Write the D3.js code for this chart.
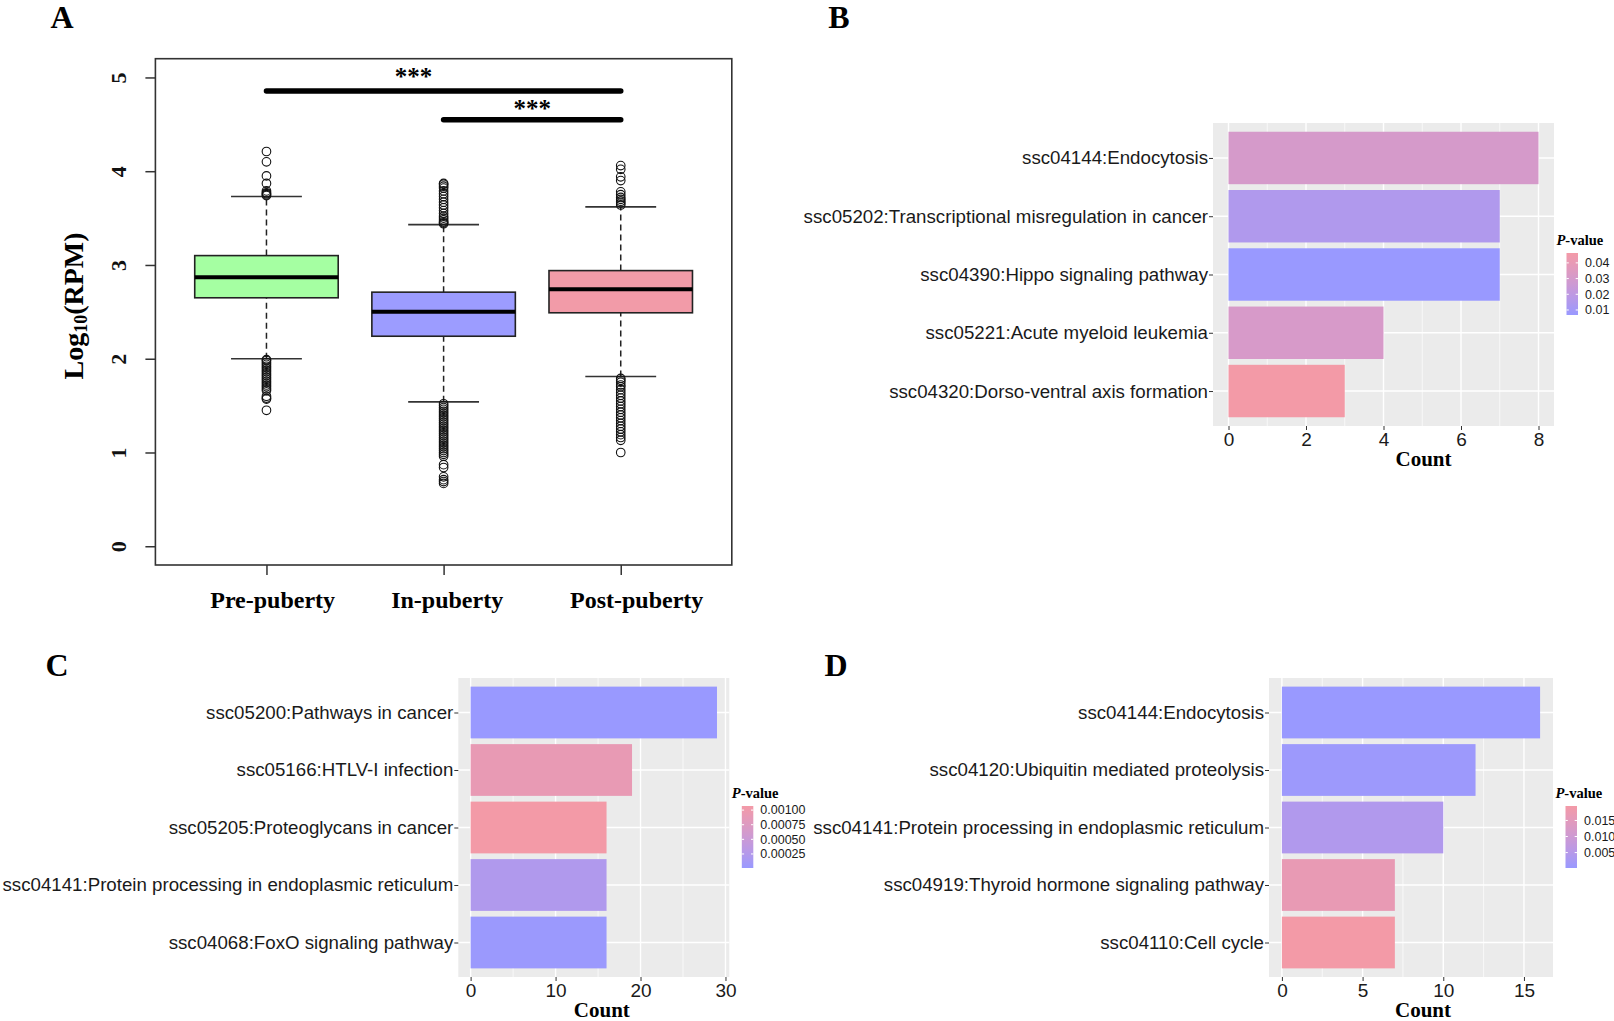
<!DOCTYPE html>
<html>
<head>
<meta charset="utf-8">
<script src="https://cdn.jsdelivr.net/npm/d3@7"></script>
<style>
  body { margin: 0; background: #fff; }
  svg { display: block; }
</style>
</head>
<body>
<svg id="fig" width="1614" height="1021"></svg>
<script>
// ---- panel A: expression per stage, log10(RPM) ----
var stages = ['Pre-puberty', 'In-puberty', 'Post-puberty'];
var q1 = [2.65, 2.24, 2.49];
var medians = [2.87, 2.50, 2.74];
var q3 = [3.10, 2.71, 2.94];
var whiskerLo = [2.00, 1.54, 1.81];
var whiskerHi = [3.73, 3.43, 3.62];
var outliersPre = [4.21, 4.10, 3.95, 3.87, 3.79, 3.77, 3.76, 3.75, 3.74,
  1.99, 1.98, 1.96, 1.94, 1.92, 1.90, 1.88, 1.86, 1.84, 1.82, 1.80, 1.78,
  1.76, 1.74, 1.72, 1.70, 1.68, 1.66, 1.60, 1.58, 1.57, 1.45];
var outliersIn = [3.87, 3.86, 3.84, 3.82, 3.79, 3.76, 3.73, 3.70, 3.67, 3.64,
  3.61, 3.58, 3.55, 3.52, 3.50, 3.48, 3.46, 3.45, 3.44,
  1.52, 1.50, 1.48, 1.46, 1.44, 1.42, 1.40, 1.38, 1.36, 1.34, 1.32, 1.30,
  1.28, 1.26, 1.24, 1.22, 1.20, 1.18, 1.16, 1.14, 1.12, 1.10, 1.08, 1.06,
  1.04, 1.02, 1.00, 0.98, 0.96, 0.87, 0.84, 0.74, 0.71, 0.69, 0.67];
var outliersPost = [4.06, 4.02, 3.94, 3.90, 3.78, 3.75, 3.72, 3.70, 3.68, 3.66, 3.64,
  1.79, 1.77, 1.75, 1.72, 1.70, 1.67, 1.64, 1.61, 1.58, 1.55, 1.52, 1.49,
  1.46, 1.43, 1.40, 1.37, 1.34, 1.31, 1.28, 1.25, 1.22, 1.19, 1.16, 1.13, 1.00];
var rpmTicks = [0, 1, 2, 3, 4, 5];
var stageLabelAt = [1.035, 2.02, 3.09];
var sigFrom = [1, 2];
var sigTo = [3, 3];
var sigLevel = [4.855, 4.55];
var sigText = ['***', '***'];
var sigTextX = [1.83, 2.5];
var sigTextY = [5.03, 4.69];

// ---- panel B ----
var termsB = ['ssc04144:Endocytosis', 'ssc05202:Transcriptional misregulation in cancer',
  'ssc04390:Hippo signaling pathway', 'ssc05221:Acute myeloid leukemia',
  'ssc04320:Dorso-ventral axis formation'];
var countB = [8, 7, 7, 4, 3];
var pvalB = [0.0305, 0.0147, 0.0068, 0.0312, 0.0463];
var countTicksB = [0, 2, 4, 6, 8];
var pTicksB = [0.01, 0.02, 0.03, 0.04];

// ---- panel C ----
var termsC = ['ssc05200:Pathways in cancer', 'ssc05166:HTLV-I infection',
  'ssc05205:Proteoglycans in cancer', 'ssc04141:Protein processing in endoplasmic reticulum',
  'ssc04068:FoxO signaling pathway'];
var countC = [29, 19, 16, 16, 16];
var pvalC = [0.00001, 0.00091, 0.00107, 0.00022, 0.00003];
var countTicksC = [0, 10, 20, 30];
var pTicksC = [0.00025, 0.0005, 0.00075, 0.001];

// ---- panel D ----
var termsD = ['ssc04144:Endocytosis', 'ssc04120:Ubiquitin mediated proteolysis',
  'ssc04141:Protein processing in endoplasmic reticulum', 'ssc04919:Thyroid hormone signaling pathway',
  'ssc04110:Cell cycle'];
var countD = [16, 12, 10, 7, 7];
var pvalD = [0.0002, 0.0008, 0.0041, 0.0166, 0.0195];
var countTicksD = [0, 5, 10, 15];
var pTicksD = [0.005, 0.010, 0.015];

var SERIF = '"Liberation Serif", "Times New Roman", serif';
var SANS = '"Liberation Sans", Arial, sans-serif';
var lowColor = '#9999ff';
var highColor = '#f39aa7';

var svg = d3.select('#fig');
var defs = svg.append('defs');

// panel letters
[['A', 62, 17], ['B', 839, 17], ['C', 57, 665], ['D', 836, 665]].forEach(function(p) {
  svg.append('text')
    .attr('x', p[1]).attr('y', p[2] + 11)
    .attr('text-anchor', 'middle')
    .style('font-family', SERIF).style('font-weight', 'bold').style('font-size', '32px')
    .text(p[0]);
});

// ================= box plot =================
(function boxPanel() {
  var left = 155.4, right = 731.8, top = 58.7, bottom = 565;
  var x = d3.scaleLinear().domain([0.373, 3.627]).range([left, right]);
  var y = d3.scaleLinear().domain([-0.2, 5.2]).range([bottom, top]);
  var g = svg.append('g');
  var outliers = [outliersPre, outliersIn, outliersPost];
  var fills = ['#a5ffa2', '#9c9cff', '#f29ba8'];

  stages.forEach(function(s, i) {
    var cx = x(i + 1);
    // whiskers
    [[whiskerLo[i], q1[i]], [q3[i], whiskerHi[i]]].forEach(function(w) {
      g.append('line')
        .attr('x1', cx).attr('x2', cx).attr('y1', y(w[0])).attr('y2', y(w[1]))
        .attr('stroke', '#222').attr('stroke-width', 1.5).attr('stroke-dasharray', '6,4');
    });
    [whiskerLo[i], whiskerHi[i]].forEach(function(v) {
      g.append('line')
        .attr('x1', x(i + 0.8)).attr('x2', x(i + 1.2)).attr('y1', y(v)).attr('y2', y(v))
        .attr('stroke', '#333').attr('stroke-width', 1.6);
    });
    g.append('rect')
      .attr('x', x(i + 0.595)).attr('width', x(i + 1.405) - x(i + 0.595))
      .attr('y', y(q3[i])).attr('height', y(q1[i]) - y(q3[i]))
      .attr('fill', fills[i]).attr('stroke', '#222').attr('stroke-width', 1.6);
    g.append('line')
      .attr('x1', x(i + 0.595)).attr('x2', x(i + 1.405))
      .attr('y1', y(medians[i])).attr('y2', y(medians[i]))
      .attr('stroke', '#000').attr('stroke-width', 4);
    g.selectAll('.out' + i).data(outliers[i]).enter().append('circle')
      .attr('cx', cx).attr('cy', function(d) { return y(d); })
      .attr('r', 4.3).attr('fill', 'none').attr('stroke', '#111').attr('stroke-width', 1.1);
  });

  // significance bars
  sigLevel.forEach(function(lv, i) {
    g.append('line')
      .attr('x1', x(sigFrom[i])).attr('x2', x(sigTo[i])).attr('y1', y(lv)).attr('y2', y(lv))
      .attr('stroke', '#000').attr('stroke-width', 5.5).attr('stroke-linecap', 'round');
    g.append('text')
      .attr('x', x(sigTextX[i])).attr('y', y(sigTextY[i]) + 10)
      .attr('text-anchor', 'middle')
      .style('font-family', SERIF).style('font-weight', 'bold').style('font-size', '25px')
      .text(sigText[i]);
  });

  g.append('rect')
    .attr('x', left).attr('y', top).attr('width', right - left).attr('height', bottom - top)
    .attr('fill', 'none').attr('stroke', '#333').attr('stroke-width', 1.6);

  var yAxis = g.append('g').attr('transform', 'translate(' + left + ',0)')
    .call(d3.axisLeft(y).tickValues(rpmTicks).tickSize(10).tickFormat(d3.format('d')));
  yAxis.select('.domain').remove();
  yAxis.selectAll('line').attr('stroke', '#333').attr('stroke-width', 1.5);
  yAxis.selectAll('text')
    .attr('transform', 'rotate(-90)').attr('x', 0).attr('y', -29).attr('dy', 0)
    .attr('text-anchor', 'middle').attr('fill', '#111')
    .style('font-family', SERIF).style('font-weight', 'bold').style('font-size', '22px');

  var xAxis = g.append('g').attr('transform', 'translate(0,' + bottom + ')')
    .call(d3.axisBottom(x).tickValues([1, 2, 3]).tickSize(10).tickFormat(''));
  xAxis.select('.domain').remove();
  xAxis.selectAll('line').attr('stroke', '#333').attr('stroke-width', 1.5);

  stages.forEach(function(s, i) {
    g.append('text')
      .attr('x', x(stageLabelAt[i])).attr('y', 608)
      .attr('text-anchor', 'middle')
      .style('font-family', SERIF).style('font-weight', 'bold').style('font-size', '24px')
      .text(s);
  });

  var title = g.append('text')
    .attr('transform', 'translate(83,306) rotate(-90)')
    .attr('text-anchor', 'middle')
    .style('font-family', SERIF).style('font-weight', 'bold').style('font-size', '28px');
  title.append('tspan').text('Log');
  title.append('tspan').attr('font-size', '18px').attr('dy', 4).text('10');
  title.append('tspan').attr('dy', -4).text('(RPM)');
})();

// ================= enrichment bar panels =================
function enrichPanel(id, o) {
  var g = svg.append('g');
  var xMax = d3.max(o.counts);
  var x = d3.scaleLinear().domain([-0.05 * xMax, 1.05 * xMax]).range([o.left, o.right]);
  var y = d3.scalePoint().domain(o.terms).range([o.top, o.bottom]).padding(0.6);
  var step = y.step();
  var pExt = d3.extent(o.pvals);
  var fill = d3.scaleLinear().domain(pExt).range([lowColor, highColor]).interpolate(d3.interpolateLab);

  g.append('rect')
    .attr('x', o.left).attr('y', o.top).attr('width', o.right - o.left).attr('height', o.bottom - o.top)
    .attr('fill', '#ebebeb');

  var minor = d3.pairs(o.ticks).map(function(p) { return (p[0] + p[1]) / 2; });
  g.selectAll('.minor').data(minor).enter().append('line')
    .attr('x1', x).attr('x2', x).attr('y1', o.top).attr('y2', o.bottom)
    .attr('stroke', '#fff').attr('stroke-width', 0.7);
  g.selectAll('.majorx').data(o.ticks).enter().append('line')
    .attr('x1', x).attr('x2', x).attr('y1', o.top).attr('y2', o.bottom)
    .attr('stroke', '#fff').attr('stroke-width', 1.4);
  g.selectAll('.majory').data(o.terms).enter().append('line')
    .attr('x1', o.left).attr('x2', o.right).attr('y1', y).attr('y2', y)
    .attr('stroke', '#fff').attr('stroke-width', 1.4);

  g.selectAll('.bar').data(o.terms).enter().append('rect')
    .attr('x', x(0))
    .attr('width', function(d, i) { return x(o.counts[i]) - x(0); })
    .attr('y', function(d) { return y(d) - step * 0.45; })
    .attr('height', step * 0.9)
    .attr('fill', function(d, i) { return fill(o.pvals[i]); });

  var yAxis = g.append('g').attr('transform', 'translate(' + o.left + ',0)')
    .call(d3.axisLeft(y).tickSize(4).tickPadding(1));
  yAxis.select('.domain').remove();
  yAxis.selectAll('line').attr('stroke', '#333');
  yAxis.selectAll('text').attr('fill', '#1a1a1a')
    .style('font-family', SANS).style('font-size', '18.7px');

  var xAxis = g.append('g').attr('transform', 'translate(0,' + o.bottom + ')')
    .call(d3.axisBottom(x).tickValues(o.ticks).tickSize(4).tickPadding(3));
  xAxis.select('.domain').remove();
  xAxis.selectAll('line').attr('stroke', '#333');
  xAxis.selectAll('text').attr('fill', '#1a1a1a')
    .style('font-family', SANS).style('font-size', '19px');

  g.append('text')
    .attr('x', (o.left + o.right) / 2 + o.countShift).attr('y', o.bottom + 33).attr('dy', '0.35em')
    .attr('text-anchor', 'middle')
    .style('font-family', SERIF).style('font-weight', 'bold').style('font-size', '21px')
    .text('Count');

  // colour bar legend
  var barW = 11.5, barH = 62;
  var barX = o.right + 12.5;
  var barY = (o.top + o.bottom) / 2 - 21.5;
  var grad = defs.append('linearGradient').attr('id', id)
    .attr('x1', 0).attr('y1', 1).attr('x2', 0).attr('y2', 0);
  d3.range(0, 1.0001, 0.1).forEach(function(t) {
    grad.append('stop').attr('offset', t)
      .attr('stop-color', fill(pExt[0] + t * (pExt[1] - pExt[0])));
  });
  g.append('rect').attr('x', barX).attr('y', barY).attr('width', barW).attr('height', barH)
    .attr('fill', 'url(#' + id + ')');
  var ly = d3.scaleLinear().domain(pExt).range([barY + barH, barY]);
  o.pTicks.forEach(function(v) {
    g.append('line').attr('x1', barX).attr('x2', barX + 2.3).attr('y1', ly(v)).attr('y2', ly(v))
      .attr('stroke', '#fff').attr('stroke-width', 1);
    g.append('line').attr('x1', barX + barW - 2.3).attr('x2', barX + barW).attr('y1', ly(v)).attr('y2', ly(v))
      .attr('stroke', '#fff').attr('stroke-width', 1);
    g.append('text').attr('x', barX + 18.5).attr('y', ly(v)).attr('dy', '0.35em')
      .attr('fill', '#1a1a1a')
      .style('font-family', SANS).style('font-size', '12.5px')
      .text(d3.format(o.pFormat)(v));
  });
  var t = g.append('text').attr('x', barX - 10).attr('y', barY - 13).attr('dy', '0.35em')
    .style('font-family', SERIF).style('font-weight', 'bold').style('font-size', '14.5px');
  t.append('tspan').style('font-style', 'italic').text('P');
  t.append('tspan').text('-value');
}

enrichPanel('gradB', { terms: termsB, counts: countB, pvals: pvalB, ticks: countTicksB,
  pTicks: pTicksB, pFormat: '.2f', left: 1213, right: 1554, top: 123, bottom: 426, countShift: 40 });
enrichPanel('gradC', { terms: termsC, counts: countC, pvals: pvalC, ticks: countTicksC,
  pTicks: pTicksC, pFormat: '.5f', left: 458.3, right: 729.3, top: 678, bottom: 977, countShift: 8 });
enrichPanel('gradD', { terms: termsD, counts: countD, pvals: pvalD, ticks: countTicksD,
  pTicks: pTicksD, pFormat: '.3f', left: 1269, right: 1553, top: 678, bottom: 977, countShift: 12 });
</script>
</body>
</html>
